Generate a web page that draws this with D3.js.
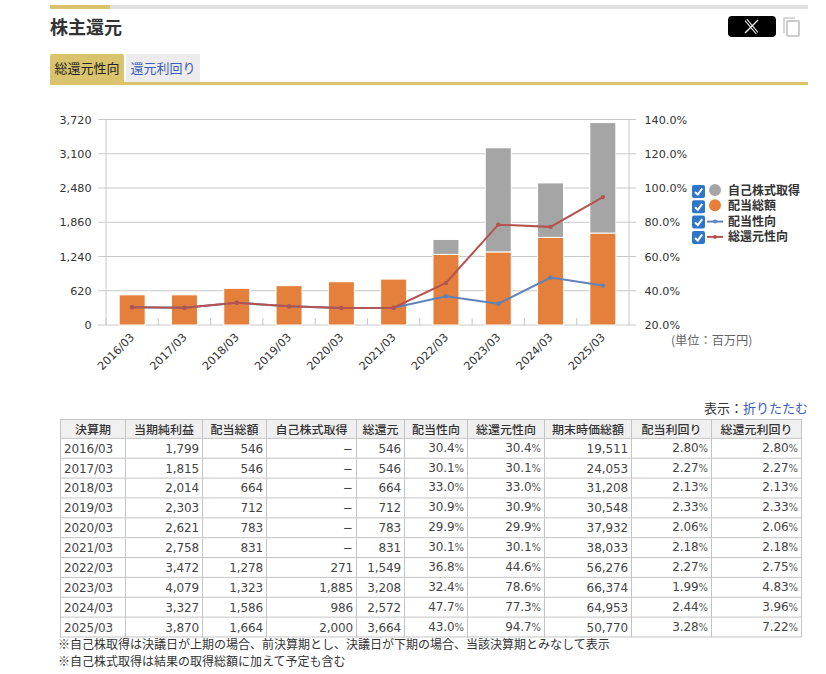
<!DOCTYPE html>
<html>
<head>
	<meta charset="utf-8">
	<script src="https://cdn.jsdelivr.net/npm/d3@7"></script>
	<style type="text/css">
		html, body { margin: 0; padding: 0; background: #fff; }
		body { position: relative; width: 826px; height: 674px; overflow: hidden; color: #333;
			font-family: "DejaVu Sans", "Noto Sans CJK JP", sans-serif; font-size: 12px; }
		.abs { position: absolute; }
		svg text { fill: #333; font-size: 11.2px; }
		.tab { top: 54px; height: 29px; line-height: 27px; text-align: center; font-family: "Noto Sans CJK JP", sans-serif; font-size: 13px; }
		table { position: absolute; left: 60px; top: 419px; border-collapse: collapse; table-layout: fixed; width: 741px; transform: scaleY(0.993); transform-origin: 0 0; }
		th, td { border: 1px solid #c4c4c4; padding: 0 3px 0 3px; height: 18.8px; line-height: 18px; box-sizing: border-box; white-space: nowrap; overflow: hidden; }
		th { background: #f0f0f0; font-family: "Noto Sans CJK JP", sans-serif; font-size: 12px; font-weight: 500; text-align: center; height: 18.5px; }
		td { text-align: right; color: #444; letter-spacing: -0.1px; }
		td:first-child { text-align: left; }
		td small { font-size: 10px; color: #555; }
		.note { left: 58px; font-family: "Noto Sans CJK JP", sans-serif; font-size: 12px; color: #333; white-space: nowrap; }
	</style>
</head>
<body>
	<script type="text/javascript">

		// data
		var categories = ["2016/03","2017/03","2018/03","2019/03","2020/03","2021/03","2022/03","2023/03","2024/03","2025/03"];
		var netProfit = [1799,1815,2014,2303,2621,2758,3472,4079,3327,3870];
		var dividends = [546,546,664,712,783,831,1278,1323,1586,1664];
		var buybacks = [0,0,0,0,0,0,271,1885,986,2000];
		var totalReturn = [546,546,664,712,783,831,1549,3208,2572,3664];
		var payoutRatio = [30.4,30.1,33.0,30.9,29.9,30.1,36.8,32.4,47.7,43.0];
		var totalPayout = [30.4,30.1,33.0,30.9,29.9,30.1,44.6,78.6,77.3,94.7];
		var marketCap = [19511,24053,31208,30548,37932,38033,56276,66374,64953,50770];
		var divYield = [2.80,2.27,2.13,2.33,2.06,2.18,2.27,1.99,2.44,3.28];
		var totalYield = [2.80,2.27,2.13,2.33,2.06,2.18,2.75,4.83,3.96,7.22];

		var leftTicks = [0,620,1240,1860,2480,3100,3720];
		var rightTicks = [20,40,60,80,100,120,140];
		var legendNames = ["自己株式取得","配当総額","配当性向","総還元性向"];
		var tableHead = ["決算期","当期純利益","配当総額","自己株式取得","総還元","配当性向","総還元性向","期末時価総額","配当利回り","総還元利回り"];

		var body = d3.select("body");

		// top bars and title
		body.append("div").attr("class","abs").style("left","50px").style("top","5px").style("width","758px").style("height","4px").style("background","#e0e0e0");
		body.append("div").attr("class","abs").style("left","50px").style("top","5px").style("width","60px").style("height","4px").style("background","#d9c36c");
		body.append("div").attr("class","abs").style("left","50px").style("top","13px").style("font","700 18px 'Noto Sans CJK JP'").style("color","#333").text("株主還元");

		// tabs
		body.append("div").attr("class","abs tab").style("left","50px").style("width","74px").style("background","#d9c36c").style("border-radius","2px 2px 0 0").style("color","#222").text("総還元性向");
		body.append("div").attr("class","abs tab").style("left","126px").style("width","74px").style("height","28px").style("background","#ececec").style("color","#3b5cb8").text("還元利回り");
		body.append("div").attr("class","abs").style("left","50px").style("top","82px").style("width","758px").style("height","3px").style("background","#d9c36c");

		// x and copy buttons
		var btn = body.append("svg").attr("class","abs").style("left","720px").style("top","10px").attr("width","90").attr("height","35");
		btn.append("rect").attr("x",8).attr("y",6).attr("width",48).attr("height",21).attr("rx",4).attr("fill","#000");
		btn.append("path").attr("d","M26 10 L37 23").attr("stroke","#fff").attr("stroke-width",3.4).attr("fill","none");
		btn.append("path").attr("d","M26 10 L37 23").attr("stroke","#000").attr("stroke-width",1.2).attr("fill","none");
		btn.append("path").attr("d","M38 10 L25 23").attr("stroke","#fff").attr("stroke-width",1.2).attr("fill","none");
		btn.append("path").attr("d","M64 23 V8 H75").attr("stroke","#ccc").attr("stroke-width",1.5).attr("fill","none");
		btn.append("rect").attr("x",67).attr("y",11).attr("width",12).attr("height",15).attr("rx",1).attr("stroke","#ccc").attr("stroke-width",2).attr("fill","none");

		// chart
		var svg = body.append("svg").attr("class","abs").style("left","0").style("top","0").attr("width",826).attr("height",400);

		var x = d3.scaleBand().domain(categories).range([106,629]);
		var yLeft = d3.scaleLinear().domain([0,3720]).range([325,119.5]);
		var yRight = d3.scaleLinear().domain([20,140]).range([325,119.5]);

		// grid
		svg.append("g").selectAll("line").data(leftTicks).enter().append("line")
			.attr("x1",98).attr("x2",636)
			.attr("y1",function(d){ return yLeft(d); }).attr("y2",function(d){ return yLeft(d); })
			.attr("stroke","#c8c8c8").attr("stroke-width",1);

		// axis lines
		svg.append("line").attr("x1",106).attr("x2",106).attr("y1",119.5).attr("y2",325).attr("stroke","#c8c8c8");
		svg.append("line").attr("x1",629).attr("x2",629).attr("y1",119.5).attr("y2",325).attr("stroke","#c8c8c8");

		// x ticks
		svg.append("g").selectAll("line").data(categories).enter().append("line")
			.attr("x1",function(d){ return x(d); }).attr("x2",function(d){ return x(d); })
			.attr("y1",318).attr("y2",325).attr("stroke","#c8c8c8");

		// bars
		var barW = 26;
		svg.append("g").selectAll("rect").data(categories).enter().append("rect")
			.attr("x",function(d){ return x(d)+x.bandwidth()/2-barW/2; }).attr("width",barW)
			.attr("y",function(d,i){ return yLeft(dividends[i]); })
			.attr("height",function(d,i){ return yLeft(0)-yLeft(dividends[i]); })
			.attr("fill","#e47f3c").attr("stroke","#fff").attr("stroke-width",1);
		svg.append("g").selectAll("rect").data(categories.filter(function(d,i){ return buybacks[i]>0; })).enter().append("rect")
			.attr("x",function(d){ return x(d)+x.bandwidth()/2-barW/2; }).attr("width",barW)
			.attr("y",function(d){ var i=categories.indexOf(d); return yLeft(dividends[i]+buybacks[i]); })
			.attr("height",function(d){ var i=categories.indexOf(d); return yLeft(dividends[i])-yLeft(dividends[i]+buybacks[i]); })
			.attr("fill","#a5a5a5").attr("stroke","#fff").attr("stroke-width",1);

		// lines
		function drawLine(values, color){
			var line = d3.line()
				.x(function(d,i){ return x(categories[i])+x.bandwidth()/2; })
				.y(function(d){ return yRight(d); });
			svg.append("path").attr("d",line(values)).attr("fill","none").attr("stroke",color).attr("stroke-width",2);
			svg.append("g").selectAll("circle").data(values).enter().append("circle")
				.attr("cx",function(d,i){ return x(categories[i])+x.bandwidth()/2; })
				.attr("cy",function(d){ return yRight(d); })
				.attr("r",2.2).attr("fill",color);
		}
		drawLine(payoutRatio,"#5f82b8");
		drawLine(totalPayout,"#b5534f");

		// axis labels
		svg.append("g").selectAll("text").data(leftTicks).enter().append("text")
			.attr("x",91.5).attr("y",function(d){ return yLeft(d)+4; }).attr("text-anchor","end")
			.text(function(d){ return d3.format(",")(d); });
		svg.append("g").selectAll("text").data(rightTicks).enter().append("text")
			.attr("x",644.5).attr("y",function(d){ return yRight(d)+4; })
			.text(function(d){ return d.toFixed(1)+"%"; });
		svg.append("g").selectAll("text").data(categories).enter().append("text")
			.attr("transform",function(d){ return "translate("+(x(d)+x.bandwidth()/2+3)+",338) rotate(-45)"; })
			.attr("text-anchor","end")
			.text(function(d){ return d; });
		svg.append("text").attr("x",671).attr("y",345).style("fill","#666").style("font-family","'Noto Sans CJK JP'").style("font-size","12.2px").text("(単位：百万円)");

		// legend
		var legend = svg.append("g").selectAll("g").data(legendNames).enter().append("g")
			.attr("transform",function(d,i){ return "translate(692,"+(184+i*15.3)+")"; });
		legend.append("rect").attr("width",13).attr("height",13).attr("y",1).attr("rx",2).attr("fill","#2f76c9");
		legend.append("path").attr("d","M3 8 L5.8 10.5 L10.2 4.5").attr("fill","none").attr("stroke","#fff").attr("stroke-width",2);
		legend.filter(function(d,i){ return i<2; }).append("circle").attr("cx",23).attr("cy",6).attr("r",6)
			.attr("fill",function(d,i){ return i==0 ? "#a5a5a5" : "#e47f3c"; });
		legend.filter(function(d,i){ return i>=2; }).append("line").attr("x1",15).attr("x2",31).attr("y1",7).attr("y2",7)
			.attr("stroke",function(d,i){ return i==0 ? "#5f82b8" : "#b5534f"; }).attr("stroke-width",2);
		legend.filter(function(d,i){ return i>=2; }).append("circle").attr("cx",23).attr("cy",7).attr("r",2)
			.attr("fill",function(d,i){ return i==0 ? "#5f82b8" : "#b5534f"; });
		legend.append("text").attr("x",36).attr("y",11).style("font-family","'Noto Sans CJK JP'").style("font-size","12px").style("font-weight","700").text(function(d){ return d; });

		// display toggle
		var toggle = body.append("div").attr("class","abs").style("right","18px").style("top","398px").style("font","13px 'Noto Sans CJK JP'").style("color","#333").text("表示：");
		toggle.append("span").style("color","#3b5cb8").text("折りたたむ");

		// table
		var colWidths = [65,77,64,90,48,63,77,87,80,90];
		var table = body.append("table");
		table.append("colgroup").selectAll("col").data(colWidths).enter().append("col").style("width",function(d){ return d+"px"; });
		table.append("tr").selectAll("th").data(tableHead).enter().append("th").text(function(d){ return d; });

		function num(v){ return v === 0 ? "−" : d3.format(",")(v); }
		var rows = table.selectAll("tr.row").data(categories).enter().append("tr").attr("class","row");
		rows.each(function(d,i){
			var r = d3.select(this);
			r.append("td").text(d);
			[netProfit,dividends,buybacks,totalReturn].forEach(function(a){ r.append("td").text(num(a[i])); });
			[payoutRatio,totalPayout].forEach(function(a){ r.append("td").html(a[i].toFixed(1)+"<small>%</small>"); });
			r.append("td").text(num(marketCap[i]));
			[divYield,totalYield].forEach(function(a){ r.append("td").html(a[i].toFixed(2)+"<small>%</small>"); });
		});

		// notes
		body.append("div").attr("class","abs note").style("top","635px").text("※自己株取得は決議日が上期の場合、前決算期とし、決議日が下期の場合、当該決算期とみなして表示");
		body.append("div").attr("class","abs note").style("top","652px").text("※自己株式取得は結果の取得総額に加えて予定も含む");

	</script>
</body>
</html>
